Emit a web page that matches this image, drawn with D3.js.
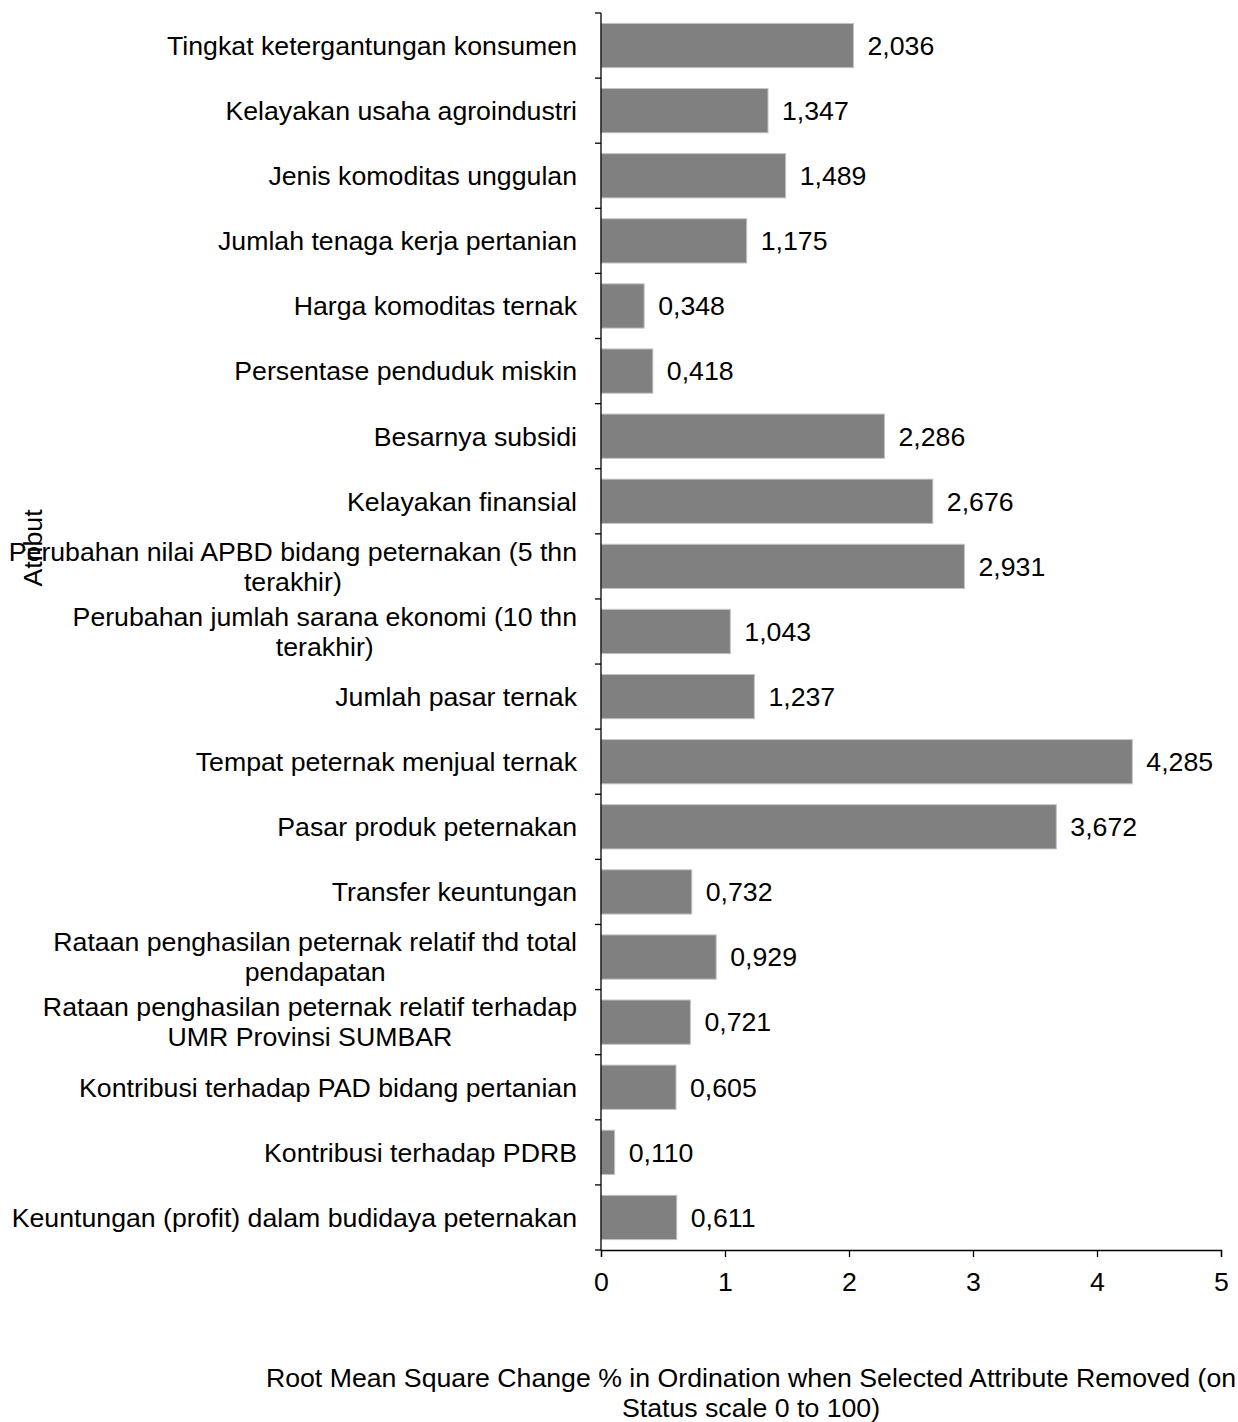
<!DOCTYPE html>
<html><head><meta charset="utf-8">
<script src="https://cdn.jsdelivr.net/npm/d3@7"></script>
<style>body{margin:0;background:#fff}svg{display:block}text{font-family:"Liberation Sans",Arial,sans-serif;fill:#000}</style>
</head><body><svg id="c" width="1238" height="1422"></svg>
<script>
const categories = [
  ["Tingkat ketergantungan konsumen"],
  ["Kelayakan usaha agroindustri"],
  ["Jenis komoditas unggulan"],
  ["Jumlah tenaga kerja pertanian"],
  ["Harga komoditas ternak"],
  ["Persentase penduduk miskin"],
  ["Besarnya subsidi"],
  ["Kelayakan finansial"],
  ["Perubahan nilai APBD bidang peternakan (5 thn", "terakhir)"],
  ["Perubahan jumlah sarana ekonomi (10 thn", "terakhir)"],
  ["Jumlah pasar ternak"],
  ["Tempat peternak menjual ternak"],
  ["Pasar produk peternakan"],
  ["Transfer keuntungan"],
  ["Rataan penghasilan peternak relatif thd total", "pendapatan"],
  ["Rataan penghasilan peternak relatif terhadap", "UMR Provinsi SUMBAR"],
  ["Kontribusi terhadap PAD bidang pertanian"],
  ["Kontribusi terhadap PDRB"],
  ["Keuntungan (profit) dalam budidaya peternakan"]
];
const values = [2.036,1.347,1.489,1.175,0.348,0.418,2.286,2.676,2.931,1.043,1.237,4.285,3.672,0.732,0.929,0.721,0.605,0.110,0.611];
const xTicks = [0,1,2,3,4,5];
const xTitle = ["Root Mean Square Change % in Ordination when Selected Attribute Removed (on", "Status scale 0 to 100)"];
const yTitle = "Atribut";

const svg = d3.select("#c");
const FS = 26.7;
const x = d3.scaleLinear().domain([0,5]).range([601,1221]);
const idx = d3.range(categories.length);
const y = d3.scaleBand().domain(idx).range([13,1250]).paddingInner(0.32).paddingOuter(0.16);
const yb = d3.scaleBand().domain(idx).range([13,1250]);
const fmt = v => d3.format(".3f")(v).replace(".", ",");

// bars
svg.append("g").selectAll("rect").data(values).join("rect")
  .attr("x", x(0)).attr("y", (d,i)=>y(i))
  .attr("width", d=>x(d)-x(0)).attr("height", y.bandwidth())
  .attr("fill","#808080").attr("stroke","#c4c4c4").attr("stroke-width",1);

// value labels
svg.append("g").selectAll("text").data(values).join("text")
  .attr("x", d=>x(d)+14).attr("y",(d,i)=>y(i)+y.bandwidth()/2).attr("dy","0.35em")
  .attr("font-size",FS).text(d=>fmt(d));

// y axis (band boundaries ticks)
const yAxisG = svg.append("g");
yAxisG.append("line").attr("x1",x(0)).attr("x2",x(0)).attr("y1",13).attr("y2",1250).attr("stroke","#000").attr("stroke-width",1.3);
yAxisG.selectAll("line.t").data(d3.range(categories.length+1)).join("line").attr("class","t")
  .attr("x1",x(0)-6).attr("x2",x(0)).attr("y1",i=>i<categories.length?yb(i):1250).attr("y2",i=>i<categories.length?yb(i):1250)
  .attr("stroke","#000").attr("stroke-width",1.3);

// category labels
const tmp = svg.append("text").attr("font-size",FS);
const labelG = svg.append("g");
categories.forEach((lines,i)=>{
  const widths = lines.map(l=>{tmp.text(l); return tmp.node().getComputedTextLength();});
  const maxW = d3.max(widths);
  const cx = 577 - maxW/2;
  const cy = yb(i)+yb.bandwidth()/2;
  const n = lines.length;
  lines.forEach((l,k)=>{
    labelG.append("text").attr("x",cx).attr("y",cy+(k-(n-1)/2)*30).attr("dy","0.35em")
      .attr("text-anchor","middle").attr("font-size",FS).text(l);
  });
});
tmp.remove();

// x axis
const xAxis = d3.axisBottom(x).tickValues(xTicks).tickSize(7).tickPadding(15).tickFormat(d3.format("d"));
const xg = svg.append("g").attr("transform","translate(0,1250)").call(xAxis);
xg.select(".domain").attr("stroke","#000").attr("stroke-width",1.3);
xg.selectAll(".tick line").attr("stroke","#000").attr("stroke-width",1.3);
xg.selectAll(".tick text").attr("font-size",FS).attr("font-family","Liberation Sans, Arial, sans-serif").attr("fill","#000");

// titles
xTitle.forEach((t,k)=>{
  svg.append("text").attr("x",751).attr("y",1378+k*30).attr("dy","0.35em").attr("text-anchor","middle").attr("font-size",FS).text(t);
});
svg.append("text").attr("transform","translate(42,548) rotate(-90)").attr("text-anchor","middle").attr("font-size",FS).text(yTitle);
</script></body></html>
